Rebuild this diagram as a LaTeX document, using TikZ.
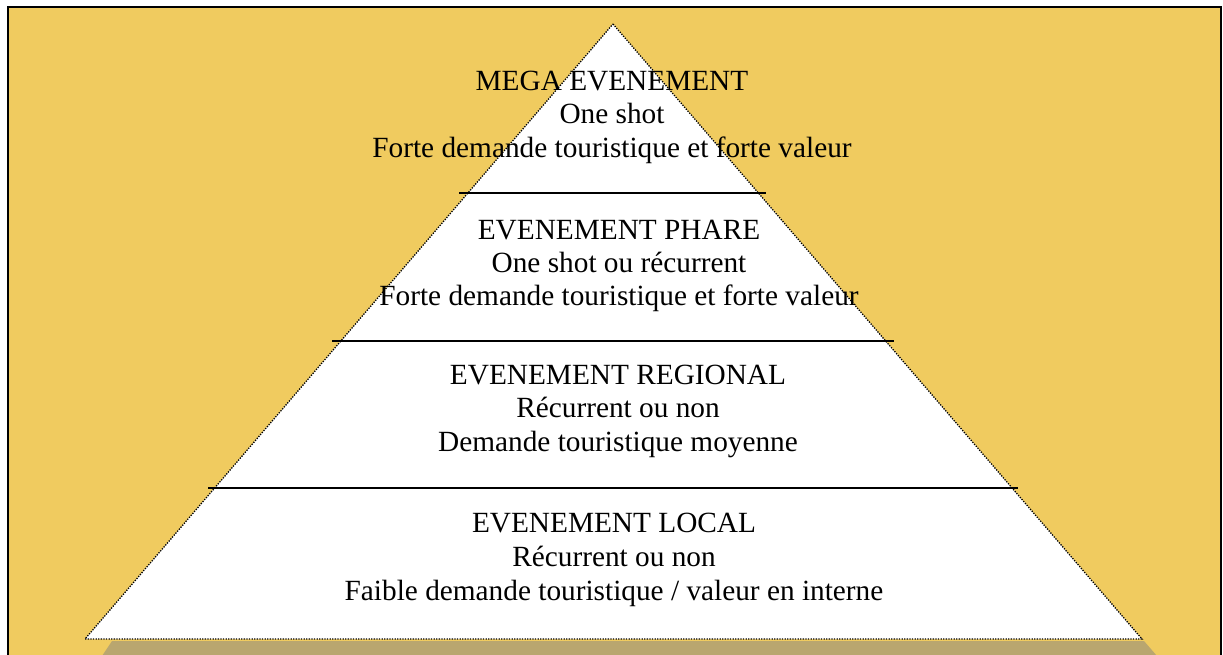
\documentclass[tikz,border=0pt]{standalone}
\usepackage{fontspec}
\setmainfont{Liberation Serif}
\definecolor{bgyellow}{HTML}{F0CB5F}
\definecolor{shadowtan}{HTML}{B9A66F}
\begin{document}
\begin{tikzpicture}[x=1pt,y=-1pt,
  lbl/.style={inner sep=0pt, anchor=base, text=black, font=\fontsize{29.3}{34}\selectfont},
  tierline/.style={draw=black, line width=2pt},
  pyredge/.style={draw=black, line width=1.3pt, dash pattern=on 1.3pt off 1.3pt, fill=white}]
\useasboundingbox (0,0) rectangle (1223,655);
\clip (0,0) rectangle (1223,655);
% frame
\filldraw[fill=bgyellow, draw=black, line width=2pt] (8,7) rectangle (1221,680);
% shadow
\fill[shadowtan] (102,656) -- (112,641) -- (1144,641) -- (1157,656) -- cycle;
% pyramid
\coordinate (apex) at (613,24);
\coordinate (bl) at (85,639);
\coordinate (br) at (1142,639);
\path[pyredge] (apex) -- (br) -- (bl) -- cycle;
% tier lines
\coordinate (l1a) at (459,193);
\coordinate (l1b) at (766,193);
\coordinate (l2a) at (332,341);
\coordinate (l2b) at (894,341);
\coordinate (l3a) at (208,488);
\coordinate (l3b) at (1018,488);
\draw[tierline] (l1a) -- (l1b);
\draw[tierline] (l2a) -- (l2b);
\draw[tierline] (l3a) -- (l3b);
% texts
\node[lbl] (t1a) at (612,91) {MEGA EVENEMENT};
\node[lbl] (t1b) at (612,124) {One shot};
\node[lbl] (t1c) at (612,157.5) {Forte demande touristique et forte valeur};
\node[lbl] (t2a) at (619,239) {EVENEMENT PHARE};
\node[lbl] (t2b) at (619,272) {One shot ou récurrent};
\node[lbl] (t2c) at (619,305.5) {Forte demande touristique et forte valeur};
\node[lbl] (t3a) at (618,384) {EVENEMENT REGIONAL};
\node[lbl] (t3b) at (618,417.5) {Récurrent ou non};
\node[lbl] (t3c) at (618,451) {Demande touristique moyenne};
\node[lbl] (t4a) at (614,532) {EVENEMENT LOCAL};
\node[lbl] (t4b) at (614,566) {Récurrent ou non};
\node[lbl] (t4c) at (614,600) {Faible demande touristique / valeur en interne};
\end{tikzpicture}
\end{document}
